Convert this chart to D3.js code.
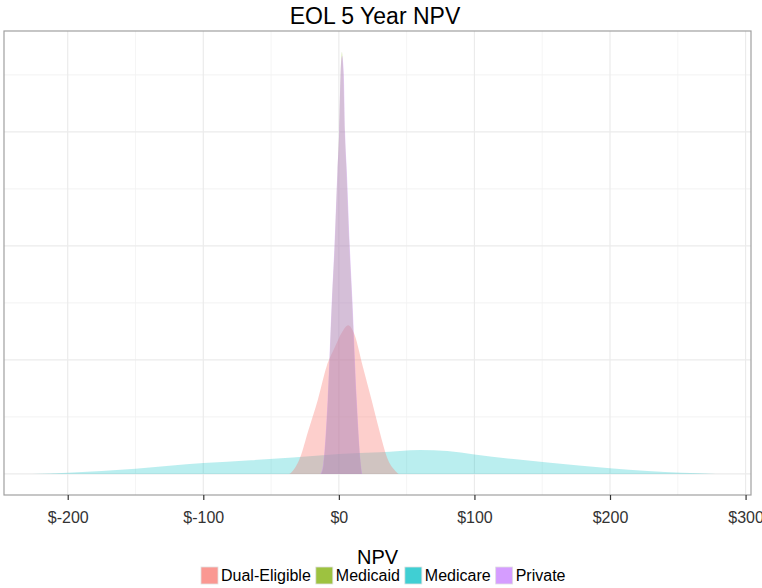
<!DOCTYPE html>
<html>
<head>
<meta charset="utf-8">
<script src="https://cdn.jsdelivr.net/npm/d3@7"></script>
<style>
  body { margin: 0; background: #fff; }
  text { font-family: "Liberation Sans", Arial, sans-serif; }
</style>
</head>
<body>
<div id="chart-area"></div>
<script>
// Density curves: NPV in $ vs density
const groups = ["Dual-Eligible", "Medicaid", "Medicare", "Private"];
const colors = ["#F8766D", "#7CAE00", "#00BFC4", "#C77CFF"];

const dualX = [-36.5, -34.9, -28.2, -22.9, -15.5, -9.1, -3, 2.0, 6.9, 11.1, 17.7, 24.1, 30.2, 35.2, 42.6, 44];
const dualY = [0, 0.0003, 0.0031, 0.0073, 0.0130, 0.0188, 0.0222, 0.0247, 0.0261, 0.0247, 0.0188, 0.0130, 0.0073, 0.0031, 0.0003, 0];

const medicaidX = [-13, -11.2, -8, -5, -3, -1, 0.3, 1.3, 2.2, 3.3, 4.3, 5.6, 7.7, 9.7, 12.9, 16, 16.8];
const medicaidY = [0, 0.0017, 0.013, 0.0304, 0.0403, 0.053, 0.0605, 0.0705, 0.0740, 0.0705, 0.0605, 0.053, 0.0403, 0.0304, 0.013, 0.0017, 0];

const medicareX = [-226, -200, -150, -100, -65, -34, 0, 30, 60, 80, 100, 129, 154, 200, 228, 253, 278];
const medicareY = [0, 0.0002, 0.0009, 0.0019, 0.0024, 0.0029, 0.0035, 0.0038, 0.0042, 0.0040, 0.0034, 0.0026, 0.0020, 0.0010, 0.0005, 0.0002, 0];

const privateX = [-13.5, -11.6, -8.3, -5.2, -3.2, -1.1, 0.2, 1.2, 2.4, 3.7, 4.6, 5.9, 8.0, 10.0, 13.2, 16.2, 17.2];
const privateY = [0, 0.0017, 0.013, 0.0304, 0.0403, 0.053, 0.0599, 0.0698, 0.0733, 0.0698, 0.0599, 0.053, 0.0403, 0.0304, 0.013, 0.0017, 0];

const xTicks = [-200, -100, 0, 100, 200, 300];
const xMinor = [-150, -50, 50, 150, 250];
const yMajor = [0, 0.02, 0.04, 0.06];
const yMinor = [0.01, 0.03, 0.05, 0.07];

const series = [
  { name: "Dual-Eligible", xs: dualX, ys: dualY },
  { name: "Medicaid", xs: medicaidX, ys: medicaidY },
  { name: "Medicare", xs: medicareX, ys: medicareY },
  { name: "Private", xs: privateX, ys: privateY }
];
// draw order: Medicare underneath, then Dual, Medicaid, Private on top
const drawOrder = ["Medicare", "Dual-Eligible", "Medicaid", "Private"];
const fillAlpha = { "Medicare": 0.27, "Dual-Eligible": 0.35, "Medicaid": 0.25, "Private": 0.4 };

const W = 762, H = 588;
const panel = { left: 4, right: 751, top: 31, bottom: 495 };

const svg = d3.select("#chart-area").append("svg")
  .attr("width", W).attr("height", H);

const x = d3.scaleLinear().domain([-247, 304]).range([panel.left, panel.right]);
const yMax = d3.max(series.flatMap(s => s.ys));
const y = d3.scaleLinear().domain([-0.05 * yMax, 1.05 * yMax]).range([panel.bottom, panel.top]);
const color = d3.scaleOrdinal().domain(groups).range(colors);

// grid
const grid = svg.append("g");
grid.selectAll(".vminor").data(xMinor).enter().append("line")
  .attr("x1", d => x(d)).attr("x2", d => x(d))
  .attr("y1", panel.top).attr("y2", panel.bottom)
  .attr("stroke", "#f5f5f5").attr("stroke-width", 1);
grid.selectAll(".hminor").data(yMinor).enter().append("line")
  .attr("x1", panel.left).attr("x2", panel.right)
  .attr("y1", d => y(d)).attr("y2", d => y(d))
  .attr("stroke", "#f2f2f2").attr("stroke-width", 1);
grid.selectAll(".vmajor").data(xTicks).enter().append("line")
  .attr("x1", d => x(d)).attr("x2", d => x(d))
  .attr("y1", panel.top).attr("y2", panel.bottom)
  .attr("stroke", "#ebebeb").attr("stroke-width", 1.2);
grid.selectAll(".hmajor").data(yMajor).enter().append("line")
  .attr("x1", panel.left).attr("x2", panel.right)
  .attr("y1", d => y(d)).attr("y2", d => y(d))
  .attr("stroke", "#ebebeb").attr("stroke-width", 1.2);

// densities
const area = d3.area()
  .x(d => x(d[0]))
  .y0(y(0))
  .y1(d => y(d[1]))
  .curve(d3.curveMonotoneX);

drawOrder.forEach(name => {
  const s = series.find(t => t.name === name);
  svg.append("path")
    .datum(s.xs.map((v, i) => [v, s.ys[i]]))
    .attr("d", area)
    .attr("fill", color(name))
    .attr("fill-opacity", fillAlpha[name]);
});

// border
svg.append("rect")
  .attr("x", panel.left).attr("y", panel.top)
  .attr("width", panel.right - panel.left).attr("height", panel.bottom - panel.top)
  .attr("fill", "none").attr("stroke", "#a0a0a0").attr("stroke-width", 1.2);

// x axis
const xAxis = svg.append("g")
  .attr("transform", `translate(0, ${panel.bottom})`)
  .call(d3.axisBottom(x).tickValues(xTicks).tickSize(5).tickPadding(12).tickFormat(d => "$" + d));
xAxis.select(".domain").remove();
xAxis.selectAll(".tick line").attr("stroke", "#333").attr("stroke-width", 1.2);
xAxis.selectAll(".tick text")
  .attr("fill", "#333")
  .style("font-size", "16px")
  .style("font-family", "Liberation Sans, Arial, sans-serif");

svg.append("text")
  .attr("x", (panel.left + panel.right) / 2)
  .attr("y", 564)
  .attr("text-anchor", "middle")
  .style("font-size", "20px")
  .attr("fill", "#000")
  .text("NPV");

// title
svg.append("text")
  .attr("x", 375)
  .attr("y", 24)
  .attr("text-anchor", "middle")
  .style("font-size", "23px")
  .attr("fill", "#000")
  .text("EOL 5 Year NPV");

// legend
const legend = svg.append("g").attr("transform", "translate(201, 567)");
let lx = 0;
groups.forEach(g => {
  legend.append("rect")
    .attr("x", lx).attr("y", 0)
    .attr("width", 17).attr("height", 17)
    .attr("fill", color(g)).attr("fill-opacity", 0.75)
    .attr("stroke", "#e0e0e0").attr("stroke-width", 0.8);
  const t = legend.append("text")
    .attr("x", lx + 20).attr("y", 14)
    .style("font-size", "16px")
    .attr("fill", "#000")
    .text(g);
  lx += 20 + t.node().getComputedTextLength() + 5;
});
</script>
</body>
</html>
